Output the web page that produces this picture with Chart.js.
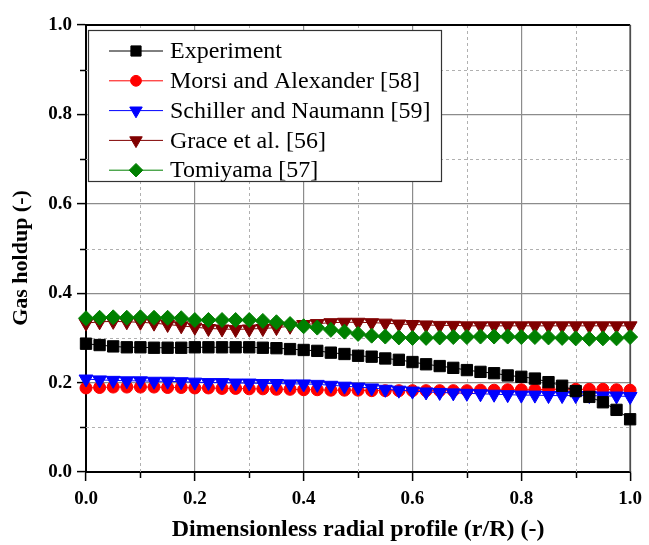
<!DOCTYPE html>
<html>
<head>
<meta charset="utf-8">
<script src="https://cdn.jsdelivr.net/npm/chart.js@4/dist/chart.umd.min.js"></script>
<style>
  html, body { margin: 0; padding: 0; background: #fff; }
  #wrap { width: 649px; height: 545px; }
</style>
</head>
<body>
<div id="wrap"><canvas id="c" width="649" height="545"></canvas></div>
<script>
// Radial positions r/R
const radial = [0.000, 0.025, 0.050, 0.075, 0.100, 0.125, 0.150, 0.175, 0.200, 0.225,
                0.250, 0.275, 0.300, 0.325, 0.350, 0.375, 0.400, 0.425, 0.450, 0.475,
                0.500, 0.525, 0.550, 0.575, 0.600, 0.625, 0.650, 0.675, 0.700, 0.725,
                0.750, 0.775, 0.800, 0.825, 0.850, 0.875, 0.900, 0.925, 0.950, 0.975, 1.000];

// Gas holdup profiles
const experiment = [0.287, 0.284, 0.281, 0.279, 0.279, 0.278, 0.278, 0.278, 0.279, 0.279,
                    0.279, 0.279, 0.279, 0.278, 0.277, 0.275, 0.273, 0.271, 0.267, 0.264,
                    0.260, 0.258, 0.254, 0.251, 0.246, 0.241, 0.237, 0.233, 0.228, 0.224,
                    0.221, 0.216, 0.213, 0.209, 0.201, 0.193, 0.181, 0.168, 0.156, 0.139, 0.118];
const morsi      = [0.188, 0.189, 0.190, 0.190, 0.190, 0.190, 0.189, 0.189, 0.188, 0.188,
                    0.187, 0.187, 0.186, 0.186, 0.185, 0.185, 0.184, 0.184, 0.183, 0.183,
                    0.183, 0.182, 0.182, 0.182, 0.182, 0.182, 0.182, 0.182, 0.182, 0.183,
                    0.183, 0.184, 0.184, 0.184, 0.185, 0.185, 0.185, 0.185, 0.185, 0.184, 0.183];
const schiller   = [0.208, 0.206, 0.205, 0.204, 0.204, 0.203, 0.203, 0.202, 0.201, 0.200,
                    0.200, 0.199, 0.199, 0.198, 0.198, 0.197, 0.197, 0.196, 0.194, 0.192,
                    0.190, 0.188, 0.185, 0.183, 0.181, 0.179, 0.178, 0.177, 0.176, 0.175,
                    0.174, 0.173, 0.172, 0.172, 0.171, 0.171, 0.171, 0.171, 0.170, 0.170, 0.169];
const grace      = [0.333, 0.336, 0.337, 0.336, 0.335, 0.333, 0.330, 0.327, 0.324, 0.321,
                    0.320, 0.319, 0.320, 0.321, 0.323, 0.326, 0.330, 0.332, 0.334, 0.335,
                    0.335, 0.334, 0.333, 0.331, 0.330, 0.329, 0.328, 0.328, 0.327, 0.327,
                    0.327, 0.327, 0.327, 0.327, 0.327, 0.327, 0.327, 0.327, 0.327, 0.327, 0.327];
const tomiyama   = [0.344, 0.345, 0.346, 0.345, 0.346, 0.345, 0.345, 0.344, 0.340, 0.340,
                    0.340, 0.340, 0.340, 0.338, 0.335, 0.331, 0.326, 0.323, 0.318, 0.314,
                    0.309, 0.305, 0.303, 0.301, 0.300, 0.300, 0.301, 0.302, 0.302, 0.303,
                    0.303, 0.303, 0.302, 0.302, 0.301, 0.300, 0.299, 0.298, 0.299, 0.299, 0.302];

const seriesLabels = ['Experiment', 'Morsi and Alexander [58]', 'Schiller and Naumann [59]',
                      'Grace et al. [56]', 'Tomiyama [57]'];
const minorTicks = [0.1, 0.3, 0.5, 0.7, 0.9];
const xTitle = 'Dimensionless radial profile (r/R) (-)';
const yTitle = 'Gas holdup (-)';

const SERIF = '"Liberation Serif", "Times New Roman", serif';

function pts(values) {
  return values.map((v, i) => ({ x: radial[i], y: v }));
}

function series(label, values, color, style, radius, rotation, order) {
  return {
    label: label,
    data: pts(values),
    borderColor: color,
    backgroundColor: color,
    borderWidth: 1,
    pointStyle: style,
    pointRadius: radius,
    pointRotation: rotation,
    pointBackgroundColor: color,
    pointBorderColor: color,
    pointBorderWidth: 1,
    tension: 0,
    clip: false,
    order: order
  };
}

// marker drawing for the legend samples
function drawMarker(ctx, style, x, y, r, rotation, color) {
  ctx.save();
  ctx.fillStyle = color;
  ctx.strokeStyle = color;
  ctx.lineWidth = 1;
  ctx.beginPath();
  if (style === 'circle') {
    ctx.arc(x, y, r, 0, Math.PI * 2);
  } else if (style === 'rect') {
    const s = Math.SQRT1_2 * r;
    ctx.rect(x - s, y - s, 2 * s, 2 * s);
  } else if (style === 'rectRot') {
    ctx.moveTo(x, y - r); ctx.lineTo(x + r, y); ctx.lineTo(x, y + r); ctx.lineTo(x - r, y);
    ctx.closePath();
  } else if (style === 'triangle') {
    const rad = (rotation || 0) * Math.PI / 180;
    for (let k = 0; k < 3; k++) {
      const a = rad - Math.PI / 2 + k * 2 * Math.PI / 3;
      const px = x + r * Math.cos(a), py = y + r * Math.sin(a);
      if (k === 0) ctx.moveTo(px, py); else ctx.lineTo(px, py);
    }
    ctx.closePath();
  }
  ctx.fill();
  ctx.stroke();
  ctx.restore();
}

// dashed minor grid, minor tick marks and the top/right frame
const minorGrid = {
  id: 'minorGrid',
  beforeDatasetsDraw(chart) {
    const { ctx, chartArea: a, scales: { x, y } } = chart;
    ctx.save();
    ctx.strokeStyle = '#b0b0b0';
    ctx.lineWidth = 1;
    ctx.setLineDash([3, 3]);
    minorTicks.forEach(v => {
      const px = Math.round(x.getPixelForValue(v)) + 0.5;
      const py = Math.round(y.getPixelForValue(v)) + 0.5;
      ctx.beginPath(); ctx.moveTo(px, a.top); ctx.lineTo(px, a.bottom); ctx.stroke();
      ctx.beginPath(); ctx.moveTo(a.left, py); ctx.lineTo(a.right, py); ctx.stroke();
    });
    ctx.setLineDash([]);
    ctx.strokeStyle = '#000';
    ctx.lineWidth = 1.5;
    minorTicks.forEach(v => {
      const px = Math.round(x.getPixelForValue(v)) + 0.5;
      const py = Math.round(y.getPixelForValue(v)) + 0.5;
      ctx.beginPath(); ctx.moveTo(px, a.bottom); ctx.lineTo(px, a.bottom + 6); ctx.stroke();
      ctx.beginPath(); ctx.moveTo(a.left - 6, py); ctx.lineTo(a.left, py); ctx.stroke();
    });
    ctx.strokeStyle = '#000';
    ctx.lineWidth = 2;
    ctx.beginPath(); ctx.moveTo(a.left, a.top); ctx.lineTo(a.right, a.top); ctx.stroke();
    ctx.strokeStyle = '#444';
    ctx.lineWidth = 1.5;
    ctx.beginPath(); ctx.moveTo(a.right, a.top); ctx.lineTo(a.right, a.bottom); ctx.stroke();
    ctx.restore();
  }
};

// boxed legend in the upper-left corner of the plot
const boxLegend = {
  id: 'boxLegend',
  afterDatasetsDraw(chart) {
    const ctx = chart.ctx;
    const box = { left: 88, top: 30, right: 442, bottom: 182 };
    ctx.save();
    ctx.fillStyle = '#fff';
    ctx.fillRect(box.left, box.top, box.right - box.left, box.bottom - box.top);
    ctx.strokeStyle = '#333';
    ctx.lineWidth = 1.2;
    ctx.strokeRect(box.left + 0.5, box.top + 0.5, box.right - box.left - 1, box.bottom - box.top - 1);
    ctx.font = '24px ' + SERIF;
    ctx.textBaseline = 'middle';
    ctx.textAlign = 'left';
    chart.data.datasets.forEach((ds, i) => {
      const yy = 51 + i * 29.8;
      ctx.strokeStyle = ds.borderColor;
      ctx.lineWidth = 1;
      ctx.beginPath(); ctx.moveTo(109, yy); ctx.lineTo(163, yy); ctx.stroke();
      drawMarker(ctx, ds.pointStyle, 136, yy, ds.pointRadius * 0.9, ds.pointRotation, ds.pointBackgroundColor);
      ctx.fillStyle = '#000';
      ctx.fillText(ds.label, 170, yy + 1);
    });
    ctx.restore();
  }
};

// axis titles
const axisTitles = {
  id: 'axisTitles',
  afterDraw(chart) {
    const { ctx, chartArea: a } = chart;
    ctx.save();
    ctx.fillStyle = '#000';
    ctx.textAlign = 'center';
    ctx.textBaseline = 'middle';
    ctx.font = 'bold 24px ' + SERIF;
    ctx.fillText(xTitle, (a.left + a.right) / 2, 530);
    ctx.translate(21, 258);
    ctx.rotate(-Math.PI / 2);
    ctx.font = 'bold 22px ' + SERIF;
    ctx.fillText(yTitle, 0, 0);
    ctx.restore();
  }
};

const tickFont = { family: SERIF, size: 19, weight: 'bold' };

new Chart(document.getElementById('c'), {
  type: 'line',
  data: {
    datasets: [
      series(seriesLabels[0], experiment, '#000000', 'rect', 8, 0, 0),
      series(seriesLabels[1], morsi, '#ff0000', 'circle', 6, 0, 2),
      series(seriesLabels[2], schiller, '#0000ff', 'triangle', 8, 180, 1),
      series(seriesLabels[3], grace, '#800000', 'triangle', 8, 180, 2),
      series(seriesLabels[4], tomiyama, '#008000', 'rectRot', 7.5, 0, 1)
    ]
  },
  options: {
    responsive: false,
    animation: false,
    devicePixelRatio: 1,
    layout: { padding: { left: 0, right: 13, top: 25, bottom: 0 } },
    plugins: { legend: { display: false }, tooltip: { enabled: false } },
    scales: {
      x: {
        type: 'linear',
        min: 0, max: 1,
        afterFit(s) { s.height = 73; },
        ticks: { stepSize: 0.2, maxRotation: 0, padding: 7, color: '#000', font: tickFont,
                 callback: v => Number(v).toFixed(1) },
        grid: { color: '#8c8c8c', lineWidth: 1.2, tickLength: 9, tickColor: '#000', tickWidth: 1.5 },
        border: { color: '#000', width: 2 }
      },
      y: {
        type: 'linear',
        min: 0, max: 1,
        afterFit(s) { s.width = 86; },
        ticks: { stepSize: 0.2, padding: 5, color: '#000', font: tickFont,
                 callback: v => Number(v).toFixed(1) },
        grid: { color: '#8c8c8c', lineWidth: 1.2, tickLength: 9, tickColor: '#000', tickWidth: 1.5 },
        border: { color: '#000', width: 2 }
      }
    }
  },
  plugins: [minorGrid, boxLegend, axisTitles]
});
</script>
</body>
</html>
